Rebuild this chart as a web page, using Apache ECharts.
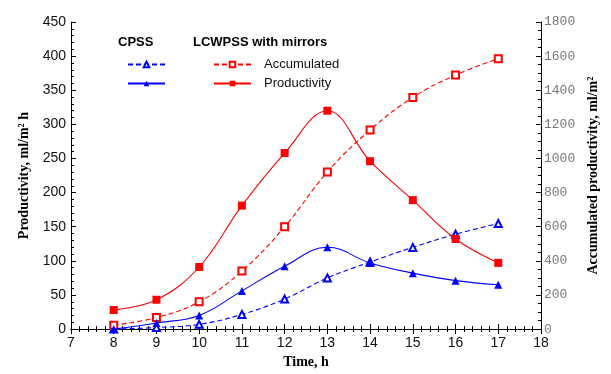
<!DOCTYPE html>
<html>
<head>
<meta charset="utf-8">
<script src="https://cdn.jsdelivr.net/npm/echarts@6/dist/echarts.min.js"></script>
<style>
  html, body { margin: 0; padding: 0; background: #fff; }
  #chart { width: 611px; height: 374px; }
</style>
</head>
<body>
<div id="chart"></div>
<script>
// values
const hours = [8, 9, 10, 11, 12, 13, 14, 15, 16, 17]
const cpssAccumulated = [0, 9, 28, 86, 176, 300, 393, 479, 556, 619]
const cpssProductivity = [0, 9, 20, 56, 92, 120, 97, 82, 71, 65]
const lcwAccumulated = [23, 68, 160, 340, 600, 921, 1167, 1358, 1489, 1585]
const lcwProductivity = [28, 43, 91, 181, 258, 320, 246, 189, 132, 97]

const xTicks = { min: 7, max: 18, interval: 1 }
const leftTicks = { min: 0, max: 450, interval: 50 }
const rightTicks = { min: 0, max: 1800, interval: 200 }

const RED = '#ff0000'
const BLUE = '#0000ff'
const serif = '"Liberation Serif", "Times New Roman", serif'
const sans = '"Liberation Sans", Arial, sans-serif'

const pairs = (vals) => hours.map((h, i) => [h, vals[i]])

const makeSeries = (name, vals, color, dashed, symbol, yIndex) => ({
    name,
    type: 'line',
    yAxisIndex: yIndex,
    data: pairs(vals),
    smooth: 0.4,
    symbol,
    symbolSize: symbol.startsWith('empty') ? 7 : 8,
    lineStyle: { color, width: 1.1, type: dashed ? [5, 3] : 'solid' },
    itemStyle: { color, borderWidth: 1.2 },
    emphasis: { disabled: true },
    z: dashed ? 3 : 4
})

const tickStyle = { lineStyle: { color: '#000', width: 1 } }
const titleFont = { fontFamily: sans, fontSize: 13, fontWeight: 'bold', color: '#000' }

const chart = echarts.init(document.getElementById('chart'), null, { renderer: 'canvas' })

chart.setOption({
    animation: false,
    backgroundColor: '#fff',
    grid: { left: 71, right: 70, top: 22, bottom: 41 },
    title: [
        { text: 'CPSS', left: 118, top: 36, padding: 0, textStyle: titleFont },
        { text: 'LCWPSS with mirrors', left: 193, top: 36, padding: 0, textStyle: titleFont }
    ],
    legend: [
        {
            data: ['CPSS accumulated', 'CPSS productivity'],
            left: 127, top: 58, padding: 0, orient: 'vertical',
            itemWidth: 37, itemHeight: 7, itemGap: 6,
            selectedMode: false,
            formatter: () => ' ',
            textStyle: { fontFamily: sans, fontSize: 13, lineHeight: 13 }
        },
        {
            data: ['Accumulated', 'Productivity'],
            left: 213, top: 58, padding: 0, orient: 'vertical',
            itemWidth: 37, itemHeight: 7, itemGap: 6,
            selectedMode: false,
            textStyle: { fontFamily: sans, fontSize: 13, lineHeight: 13, color: '#111', padding: [0, 0, 0, 8] }
        }
    ],
    xAxis: [
        {
            type: 'value', position: 'bottom', ...xTicks,
            name: 'Time, h', nameLocation: 'middle', nameGap: 24,
            nameTextStyle: { fontFamily: serif, fontSize: 14, fontWeight: 'bold', color: '#000' },
            axisLine: { lineStyle: { color: '#000' } },
            axisTick: { inside: true, length: 5, ...tickStyle },
            minorTick: { show: true, splitNumber: 5, length: 3, ...tickStyle },
            axisLabel: { fontFamily: sans, fontSize: 14, color: '#111', margin: 7 },
            splitLine: { show: false }
        },
        {
            type: 'value', position: 'top', ...xTicks,
            axisLine: { lineStyle: { color: '#000' } },
            axisTick: { inside: true, length: 5, ...tickStyle },
            minorTick: { show: true, splitNumber: 5, length: 3, ...tickStyle },
            axisLabel: { show: false },
            splitLine: { show: false }
        }
    ],
    yAxis: [
        {
            type: 'value', position: 'left', ...leftTicks,
            name: 'Productivity, ml/m² h', nameLocation: 'middle', nameRotate: 90, nameGap: 36,
            nameTextStyle: { fontFamily: serif, fontSize: 14, fontWeight: 'bold', color: '#000' },
            axisLine: { show: true, lineStyle: { color: '#000' } },
            axisTick: { show: true, inside: true, length: 5, ...tickStyle },
            minorTick: { show: true, splitNumber: 5, length: 3, ...tickStyle },
            axisLabel: { fontFamily: sans, fontSize: 14, color: '#111', margin: 5 },
            splitLine: { show: false }
        },
        {
            type: 'value', position: 'right', ...rightTicks,
            name: 'Accumulated productivity, ml/m²', nameLocation: 'middle', nameRotate: 90, nameGap: 40,
            nameTextStyle: { fontFamily: serif, fontSize: 14, fontWeight: 'bold', color: '#000' },
            axisLine: { show: true, lineStyle: { color: '#000' } },
            axisTick: { show: true, inside: true, length: 5, ...tickStyle },
            minorTick: { show: true, splitNumber: 4, length: 3, ...tickStyle },
            axisLabel: {
                fontFamily: '"Liberation Mono", "DejaVu Sans Mono", monospace', fontSize: 13, color: '#777', margin: 3,
                formatter: (v) => String(v)
            },
            splitLine: { show: false }
        }
    ],
    series: [
        makeSeries('CPSS accumulated', cpssAccumulated, BLUE, true, 'emptyTriangle', 1),
        makeSeries('CPSS productivity', cpssProductivity, BLUE, false, 'triangle', 0),
        makeSeries('Accumulated', lcwAccumulated, RED, true, 'emptyRect', 1),
        makeSeries('Productivity', lcwProductivity, RED, false, 'rect', 0)
    ]
})
</script>
</body>
</html>
